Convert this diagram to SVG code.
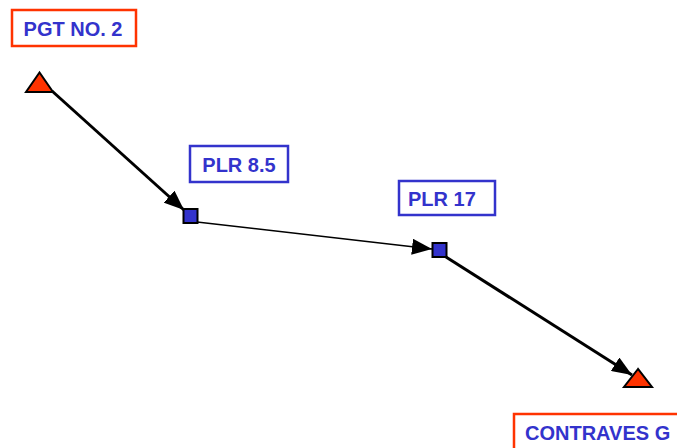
<svg xmlns="http://www.w3.org/2000/svg" width="677" height="448" viewBox="0 0 677 448">
<style>
.lbl{font-family:"Liberation Sans",Arial,sans-serif;font-weight:bold;font-size:20px;fill:#3333CC}
.rbox{fill:#fff;stroke:#FF3300;stroke-width:2.5}
.bbox{fill:#fff;stroke:#3333CC;stroke-width:2.5}
.tri{fill:#FF3300;stroke:#000;stroke-width:2}
.sq{fill:#3333CC;stroke:#000;stroke-width:2}
.thick{stroke:#000;stroke-width:3;fill:none}
.thin{stroke:#000;stroke-width:1.5;fill:none}
</style>
<defs>
<marker id="ah" markerUnits="userSpaceOnUse" viewBox="0 0 20 16" refX="20" refY="8" markerWidth="20" markerHeight="16" orient="auto">
<path d="M0,0 L20,8 L0,16 Z" fill="#000"/>
</marker>
</defs>
<g id="connectors">
<path class="thick" d="M52,91 L184,210" marker-end="url(#ah)"/>
<path class="thin" d="M197,222 L432,249" marker-end="url(#ah)"/>
<path class="thick" d="M446,257 L632,375" marker-end="url(#ah)"/>
</g>
<g id="pgt2">
<rect class="rbox" x="12" y="10" width="124" height="36"/>
<text class="lbl" x="73" y="36" text-anchor="middle">PGT NO. 2</text>
<polygon class="tri" points="39.5,72.5 26,92 53,92"/>
</g>
<g id="plr85">
<rect class="bbox" x="190" y="146" width="98" height="36"/>
<text class="lbl" x="239" y="172" text-anchor="middle">PLR 8.5</text>
<rect class="sq" x="183.5" y="209" width="14" height="14"/>
</g>
<g id="plr17">
<rect class="bbox" x="399" y="181" width="96" height="34"/>
<text class="lbl" x="408" y="206">PLR 17</text>
<rect class="sq" x="432.5" y="243" width="14" height="14"/>
</g>
<g id="contraves">
<rect class="rbox" x="514" y="414" width="170" height="40"/>
<text class="lbl" x="525" y="440">CONTRAVES G</text>
<polygon class="tri" points="638,369 624,387 652,387"/>
</g>
</svg>
